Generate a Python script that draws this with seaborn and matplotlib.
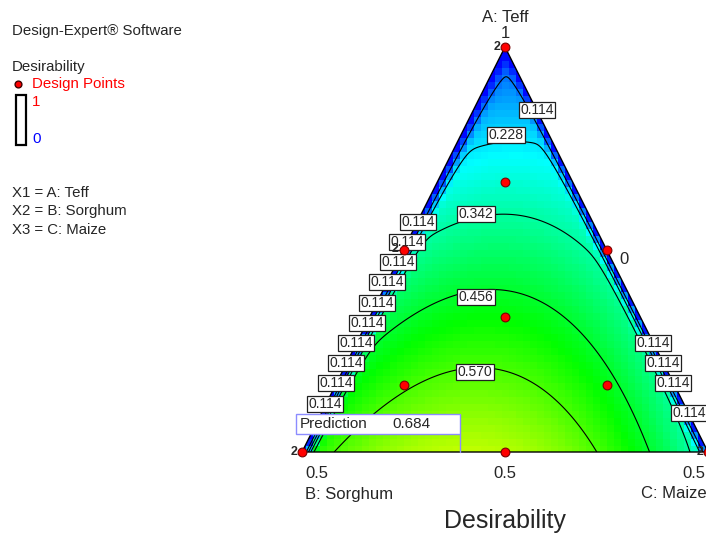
import numpy as np
import pandas as pd
import matplotlib
matplotlib.use("Agg")
import matplotlib.pyplot as plt
import seaborn as sns
from matplotlib.colors import LinearSegmentedColormap
from matplotlib.patches import Polygon, Rectangle

# ---------------------------------------------------------------- data
# Mixture design runs (real proportions): Teff (A), Sorghum (B), Maize (C)
teff = [1.0, 0.8333, 0.75, 0.75, 0.6667, 0.5833, 0.5833, 0.5, 0.5, 0.5]
sorghum = [0.0, 0.0833, 0.25, 0.0, 0.1667, 0.3333, 0.0833, 0.5, 0.25, 0.0]
maize = [0.0, 0.0833, 0.0, 0.25, 0.1667, 0.0833, 0.3333, 0.0, 0.25, 0.5]
replicates = [2, 1, 2, 1, 1, 1, 1, 2, 1, 2]

# Component ranges of the constrained region
a_low, a_high = 0.5, 1.0
b_high = 0.5
c_high = 0.5

# Fitted desirability model (Scheffe quadratic in pseudo-components,
# damped towards the B = 0 and C = 0 boundaries)
lin_coef = {"A": 0.07, "B": 0.505, "C": 0.285}
int_coef = {"AB": 0.19, "AC": 0.55, "BC": 1.13}
edge_scale = {"B": 0.018, "C": 0.021}

contour_levels = [0.114, 0.228, 0.342, 0.456, 0.570]

# Flagged optimum
pred_point = {"A": 0.5, "B": 0.3055, "C": 0.1945}
pred_value = 0.684

# ---------------------------------------------------------------- layout
APEX_X, APEX_Y, BASE_Y, HALF_W = 505.0, 47.0, 452.0, 203.0
CELL = 7.0


def to_xy(a, b, c):
    u = (np.asarray(a) - a_low) / (a_high - a_low)
    pb = np.asarray(b) / b_high
    pc = np.asarray(c) / c_high
    x = APEX_X + (pc - pb) * HALF_W
    y = BASE_Y - u * (BASE_Y - APEX_Y)
    return x, y


def to_pseudo(x, y):
    u = (BASE_Y - y) / (BASE_Y - APEX_Y)
    d = (x - APEX_X) / HALF_W
    s = 1.0 - u
    return u, (s - d) / 2.0, (s + d) / 2.0


def desirability(u, b, c):
    m = (lin_coef["A"] * u + lin_coef["B"] * b + lin_coef["C"] * c
         + int_coef["AB"] * u * b + int_coef["AC"] * u * c
         + int_coef["BC"] * b * c)
    bb = np.clip(b, 0, None) / edge_scale["B"]
    cc = np.clip(c, 0, None) / edge_scale["C"]
    damp = (1 - np.exp(-bb ** 2)) * (1 - np.exp(-cc ** 2))
    return np.clip(m * damp, 0, 1)


sns.set_style("white")
plt.rcParams["font.family"] = ["Liberation Sans", "DejaVu Sans"]

fig = plt.figure(figsize=(7.06, 5.36), dpi=100)
ax = fig.add_axes([0, 0, 1, 1])

cmap = LinearSegmentedColormap.from_list(
    "dx", ["#0000ff", "#00ffff", "#00ff00", "#ffff00", "#ff0000"])

vx, vy = to_xy([a_high, a_low, a_low], [0, b_high, 0], [0, 0, c_high])
tri = Polygon(np.column_stack([vx, vy]), closed=True, fill=False,
              edgecolor="black", lw=1.0, zorder=5)
ax.add_patch(tri)

# blocky response surface
xe = APEX_X - CELL / 2 + CELL * np.arange(-30, 31)
ye = APEX_Y + CELL * np.arange(0, 59)
xc = (xe[:-1] + xe[1:]) / 2
yc = (ye[:-1] + ye[1:]) / 2
XC, YC = np.meshgrid(xc, yc)
U, B, C = to_pseudo(XC, YC)
U, B, C = (np.clip(U, 0, None), np.clip(B, 0, None), np.clip(C, 0, None))
tot = U + B + C
Z = desirability(U / tot, B / tot, C / tot)
mesh = ax.pcolormesh(xe, ye, Z, cmap=cmap, vmin=0, vmax=1, shading="flat",
                     zorder=1)
clip_tri = Polygon(np.column_stack([vx, vy]), closed=True, transform=ax.transData)
mesh.set_clip_path(clip_tri)

# smooth contour lines
gx = np.linspace(vx.min(), vx.max(), 600)
gy = np.linspace(APEX_Y, BASE_Y, 600)
GX, GY = np.meshgrid(gx, gy)
gu, gb, gc = to_pseudo(GX, GY)
GZ = desirability(gu, gb, gc)
GZ = np.ma.masked_where((gb < -0.002) | (gc < -0.002), GZ)
cs = ax.contour(GX, GY, GZ, levels=contour_levels, colors="black",
                linewidths=0.8, zorder=3)
cs.set_clip_path(clip_tri)

# contour labels
box = dict(boxstyle="square,pad=0.1", fc="white", ec="#202020", lw=0.9)
lvl = dict(zip(["l1", "l2", "l3", "l4", "l5"], contour_levels))
label_spots = [
    (537, 110, "l1"), (506, 135, "l2"), (476, 214, "l3"),
    (476, 297, "l4"), (475, 372, "l5"),
    (418, 222, "l1"), (407, 242, "l1"), (398, 262, "l1"), (387, 282, "l1"),
    (377, 303, "l1"), (367, 323, "l1"), (356, 343, "l1"), (346, 363, "l1"),
    (336, 383, "l1"), (325, 404, "l1"),
    (653, 343, "l1"), (663, 363, "l1"), (673, 383, "l1"), (689, 413, "l1"),
]
for x, y, key in label_spots:
    ax.text(x, y, f"{lvl[key]:.3f}", fontsize=10, ha="center", va="center",
            bbox=box, zorder=6)

# design points
px, py = to_xy(teff, sorghum, maize)
runs = pd.DataFrame({"x": px, "y": py, "reps": replicates})
sns.scatterplot(data=runs, x="x", y="y", ax=ax, s=40, color="#ff0000",
                edgecolor="#7a0000", linewidth=0.8, zorder=8, legend=False)
for _, r in runs[runs["reps"] > 1].iterrows():
    ax.text(r["x"] - 4.5, r["y"], str(int(r["reps"])), fontsize=9,
            fontweight="bold", ha="right", va="center", zorder=8)
ax.set_xlim(0, 706)
ax.set_ylim(536, 0)
ax.axis("off")

# prediction flag
fx, fy = to_xy(pred_point["A"], pred_point["B"], pred_point["C"])
flag_col = "#8c8cff"
ax.add_patch(Rectangle((296, 414), fx - 296, 20, fc="white", ec=flag_col,
                       lw=1.0, zorder=9))
ax.plot([fx, fx], [434, fy], color=flag_col, lw=1.0, zorder=9)
ax.text(300, 424.5, "Prediction", fontsize=11, va="center", zorder=10)
ax.text(392, 424.5, f"{pred_value:.3f}", fontsize=11, va="center", zorder=10)

# vertex / axis annotations
ax.text(505, 18, "A: Teff", fontsize=12, ha="center", va="center")
ax.text(505, 34, "1", fontsize=12, ha="center", va="center")
ax.text(624, 260, "0", fontsize=12, ha="center", va="center")
ax.text(317, 473, "0.5", fontsize=12, ha="center", va="center")
ax.text(505, 473, "0.5", fontsize=12, ha="center", va="center")
ax.text(682, 473, "0.5", fontsize=12, ha="left", va="center")
ax.text(305, 494, "B: Sorghum", fontsize=12, ha="left", va="center")
ax.text(707, 494, "C: Maize", fontsize=12, ha="right", va="center")
ax.text(505, 521, "Desirability", fontsize=18, ha="center", va="center")

# side legend
fs = 10.8
ax.text(12, 31, "Design-Expert\u00ae Software", fontsize=fs, va="center")
ax.text(12, 67, "Desirability", fontsize=fs, va="center")
ax.scatter([18], [84], s=24, color="#ff0000", edgecolor="#400000",
           linewidth=1.0, zorder=5)
ax.text(32, 84, "Design Points", fontsize=fs, color="#ff0000", va="center")
ax.add_patch(Rectangle((16, 95), 10, 50, fill=False, ec="black", lw=1.6))
ax.text(32, 102, "1", fontsize=fs, color="#ff0000", va="center")
ax.text(32, 139, "0", fontsize=fs, color="#0000ff", va="center")
ax.text(12, 193, "X1 = A: Teff", fontsize=fs, va="center")
ax.text(12, 211, "X2 = B: Sorghum", fontsize=fs, va="center")
ax.text(12, 230, "X3 = C: Maize", fontsize=fs, va="center")

fig.savefig("out.png", dpi=100)
